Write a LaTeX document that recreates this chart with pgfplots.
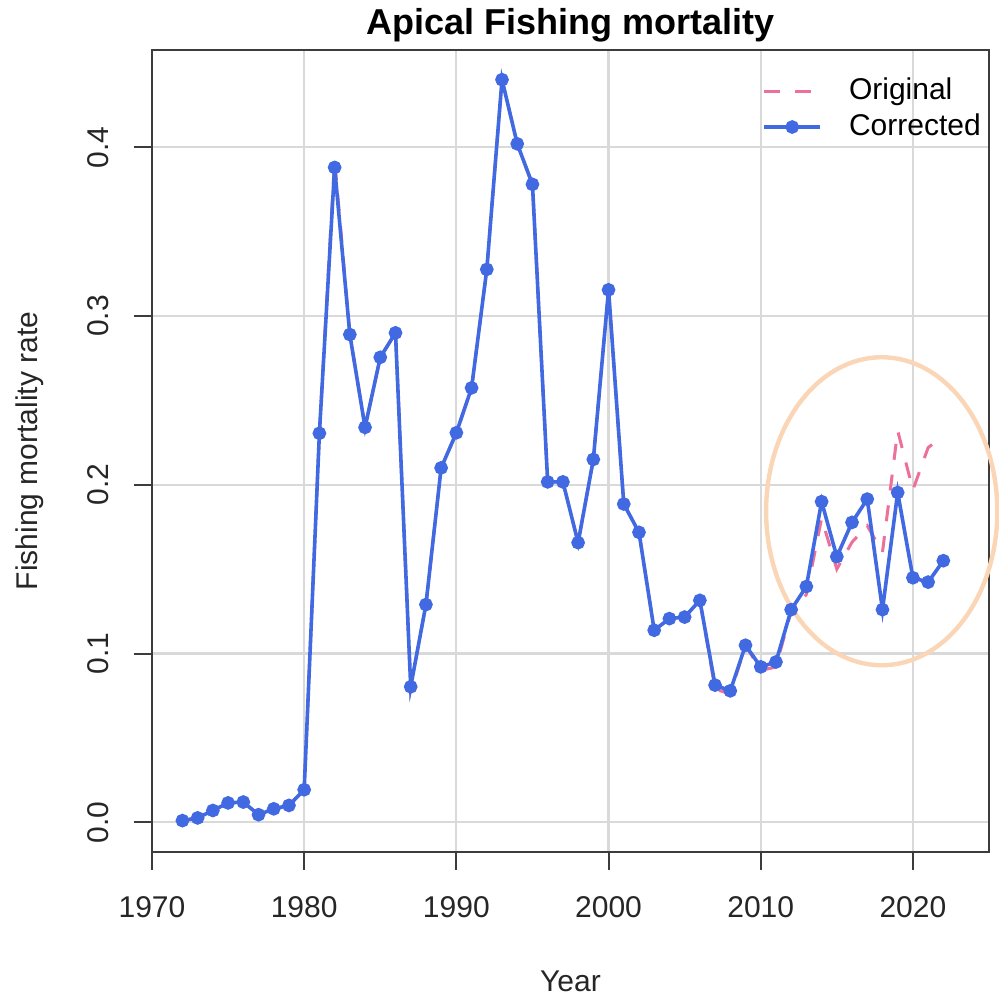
\documentclass[border=0pt]{standalone}
\usepackage{pgfplots}
\pgfplotsset{compat=1.18}
\usepackage{fontspec}
\setmainfont{Liberation Sans}
\definecolor{corrblue}{RGB}{65,105,225}
\definecolor{origpink}{RGB}{236,112,153}
\definecolor{peach}{RGB}{250,214,182}
\definecolor{gridgray}{RGB}{217,217,217}
\definecolor{boxgray}{RGB}{60,60,60}
\begin{document}
\begin{tikzpicture}
\begin{axis}[
  name=ax,
  scale only axis,
  width=418.5pt, height=401pt,
  xmin=1970, xmax=2025,
  ymin=-0.0176, ymax=0.4576,
  xtick={1970,1980,1990,2000,2010,2020},
  ytick={0,0.1,0.2,0.3,0.4},
  yticklabels={0.0,0.1,0.2,0.3,0.4},
  xticklabel={\pgfmathprintnumber[1000 sep={}]{\tick}},
  /pgf/number format/assume math mode=true,
  grid=major,
  grid style={color=gridgray, line width=1.1pt},
  axis line style={color=boxgray, line width=1pt},
  tick style={color=boxgray, line width=1pt},
  tick align=outside,
  major tick length=9pt,
  xtick pos=bottom, ytick pos=left,
  tick label style={font=\fontsize{15}{18}\selectfont, color=black!85},
  xticklabel style={anchor=center, yshift=-18.5pt},
  yticklabel style={xshift=-18pt, rotate=90, anchor=center},
  every axis title shift=0pt,
  title={Apical Fishing mortality},
  title style={at={(axis description cs:0.5,1.0312)}, anchor=center, font=\fontsize{18}{21}\selectfont\bfseries},
  xlabel={Year},
  xlabel style={at={(axis description cs:0.5,-0.1615)}, anchor=center, font=\fontsize{15}{18}\selectfont, color=black!85},
  ylabel={Fishing mortality rate},
  ylabel style={at={(axis description cs:-0.1458,0.5)}, anchor=center, rotate=0, font=\fontsize{15}{18}\selectfont, color=black!85},
  clip=false,
  legend style={draw=none, fill=none, at={(axis description cs:0.7288,0.9264)}, anchor=west,
    font=\fontsize{15}{18}\selectfont, inner sep=0pt, row sep=4pt,
    nodes={inner sep=0pt, text height=11pt, text depth=3pt},
    /tikz/every odd column/.append style={column sep=13.5pt}},
  legend cell align=left,
  legend image code/.code={\draw[#1, mark repeat=2, mark phase=2] plot coordinates {(0pt,0pt) (14pt,0pt) (28pt,0pt)};},
]
\addplot[origpink, line width=1.5pt, dash pattern=on 8pt off 7.5pt] coordinates {
(1972,0.001) (1973,0.0026) (1974,0.007) (1975,0.0115) (1976,0.012) (1977,0.0045) (1978,0.008) (1979,0.010) (1980,0.0193)
(1981,0.2305) (1982,0.393) (1983,0.289) (1984,0.234) (1985,0.2755) (1986,0.290) (1987,0.0803) (1988,0.129) (1989,0.210)
(1990,0.2308) (1991,0.2574) (1992,0.3276) (1993,0.44) (1994,0.402) (1995,0.378) (1996,0.2017) (1997,0.2017) (1998,0.1657)
(1999,0.215) (2000,0.3155) (2001,0.1886) (2002,0.1718) (2003,0.1138) (2004,0.1207) (2005,0.1216) (2006,0.1315)
(2007,0.079) (2008,0.076) (2009,0.1049) (2010,0.090) (2011,0.092) (2012,0.125) (2013,0.135) (2014,0.180) (2015,0.150)
(2016,0.166) (2017,0.1757) (2018,0.160) (2019,0.232) (2020,0.197) (2021,0.222) (2022,0.229)
};
\addlegendentry{Original}
\addplot[corrblue, line width=1.8pt, mark=*, mark size=2.5pt, mark options={solid, fill=corrblue}] coordinates {
(1972,0.001) (1973,0.0026) (1974,0.007) (1975,0.0115) (1976,0.012) (1977,0.0045) (1978,0.008) (1979,0.010) (1980,0.0193)
(1981,0.2305) (1982,0.388) (1983,0.289) (1984,0.234) (1985,0.2755) (1986,0.290) (1987,0.0803) (1988,0.129) (1989,0.210)
(1990,0.2308) (1991,0.2574) (1992,0.3276) (1993,0.44) (1994,0.402) (1995,0.378) (1996,0.2017) (1997,0.2017) (1998,0.1657)
(1999,0.215) (2000,0.3155) (2001,0.1886) (2002,0.1718) (2003,0.1138) (2004,0.1207) (2005,0.1216) (2006,0.1315)
(2007,0.0813) (2008,0.0779) (2009,0.1049) (2010,0.0921) (2011,0.095) (2012,0.126) (2013,0.1397) (2014,0.190) (2015,0.1574)
(2016,0.1777) (2017,0.1915) (2018,0.126) (2019,0.1954) (2020,0.1449) (2021,0.1423) (2022,0.155)
};
\addlegendentry{Corrected}
\draw[peach, line width=2.2pt] (axis cs:2017.95,0.1843) ellipse [x radius=57.8pt, y radius=77pt];
\end{axis}
\pgfresetboundingbox
\path ([shift={(-76pt,-72pt)}]ax.south west) rectangle ([shift={(5pt,25pt)}]ax.north east);
\end{tikzpicture}
\end{document}
